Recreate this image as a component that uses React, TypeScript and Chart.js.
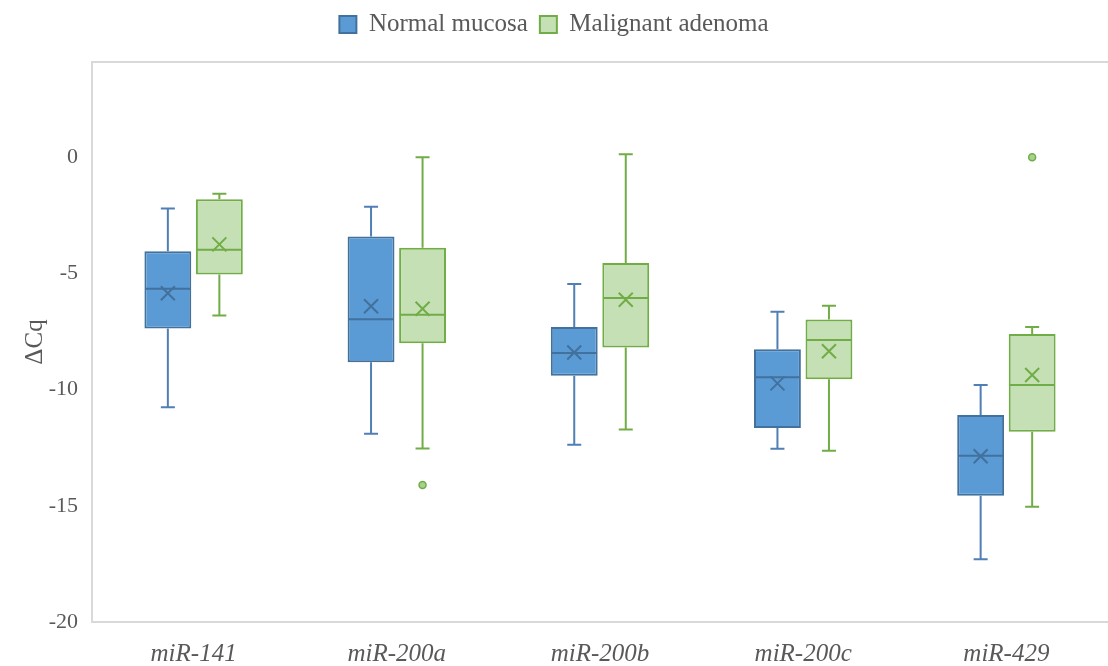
import React, { useEffect, useRef } from "react";
import { Chart, registerables } from "chart.js";

Chart.register(...registerables);

const categories = ["miR-141", "miR-200a", "miR-200b", "miR-200c", "miR-429"];
const seriesNames = ["Normal mucosa", "Malignant adenoma"];

// Normal mucosa: five-number summary, mean and outliers per miRNA
const normalMin = [-10.76, -11.9, -12.37, -12.54, -17.3];
const normalQ1 = [-7.37, -8.82, -9.4, -11.65, -14.57];
const normalMedian = [-5.66, -6.97, -8.42, -9.47, -12.84];
const normalQ3 = [-4.04, -3.41, -7.3, -8.26, -11.09];
const normalMax = [-2.2, -2.13, -5.45, -6.65, -9.8];
const normalMean = [-5.85, -6.41, -8.4, -9.73, -12.87];
const normalOutliers: number[][] = [[], [], [], [], []];

// Malignant adenoma
const adenomaMin = [-6.81, -12.53, -11.72, -12.63, -15.04];
const adenomaQ1 = [-5.04, -8.0, -8.19, -9.55, -11.81];
const adenomaMedian = [-3.98, -6.78, -6.06, -7.86, -9.8];
const adenomaQ3 = [-1.81, -3.89, -4.55, -6.98, -7.61];
const adenomaMax = [-1.57, 0.0, 0.13, -6.39, -7.3];
const adenomaMean = [-3.75, -6.52, -6.13, -8.35, -9.37];
const adenomaOutliers: number[][] = [[], [-14.1], [], [], [0.0]];

const yTicks = [-20, -15, -10, -5, 0];
const yMin = -20;
const yMax = 4.1;

const FONT = "'Liberation Serif', 'Times New Roman', serif";
const TEXT = "#595959";

type Series = {
  min: number[];
  q1: number[];
  median: number[];
  q3: number[];
  max: number[];
  mean: number[];
  outliers: number[][];
  line: string;
  medianColor: string;
  meanColor: string;
  dotFill: string;
};

const series: Series[] = [
  {
    min: normalMin, q1: normalQ1, median: normalMedian, q3: normalQ3, max: normalMax,
    mean: normalMean, outliers: normalOutliers,
    line: "#4F7FB5", medianColor: "#41719C", meanColor: "#41719C", dotFill: "#7FAEDC",
  },
  {
    min: adenomaMin, q1: adenomaQ1, median: adenomaMedian, q3: adenomaQ3, max: adenomaMax,
    mean: adenomaMean, outliers: adenomaOutliers,
    line: "#70AD47", medianColor: "#70AD47", meanColor: "#70AD47", dotFill: "#A9D18E",
  },
];

// Gives the legend the full band above the plot area
const legendBand = {
  id: "legendBand",
  beforeLayout(chart: any) {
    const legend = chart.legend;
    if (legend && !legend.__band) {
      const fit = legend.fit.bind(legend);
      legend.fit = function () {
        fit();
        this.height = 62;
      };
      legend.__band = true;
    }
  },
};

// Plot-area frame (left, top, bottom)
const plotFrame = {
  id: "plotFrame",
  beforeDatasetsDraw(chart: any) {
    const { ctx, chartArea } = chart;
    ctx.save();
    ctx.strokeStyle = "#D9D9D9";
    ctx.lineWidth = 2;
    ctx.beginPath();
    ctx.moveTo(chartArea.right + 2, chartArea.top);
    ctx.lineTo(chartArea.left, chartArea.top);
    ctx.lineTo(chartArea.left, chartArea.bottom);
    ctx.lineTo(chartArea.right + 2, chartArea.bottom);
    ctx.stroke();
    ctx.restore();
  },
};

// Whiskers, medians, mean markers and outliers on top of the boxes
const boxDetails = {
  id: "boxDetails",
  afterDatasetsDraw(chart: any) {
    const { ctx } = chart;
    const y = chart.scales.y;
    series.forEach((s, d) => {
      const meta = chart.getDatasetMeta(d);
      meta.data.forEach((el: any, j: number) => {
        const x = el.x;
        const half = el.width / 2;
        const cap = 7;
        const yMinP = y.getPixelForValue(s.min[j]);
        const yQ1 = y.getPixelForValue(s.q1[j]);
        const yQ3 = y.getPixelForValue(s.q3[j]);
        const yMaxP = y.getPixelForValue(s.max[j]);
        const yMed = y.getPixelForValue(s.median[j]);
        const yMean = y.getPixelForValue(s.mean[j]);

        ctx.save();
        ctx.strokeStyle = s.line;
        ctx.lineWidth = 2;
        ctx.beginPath();
        // upper whisker
        ctx.moveTo(x, yQ3);
        ctx.lineTo(x, yMaxP);
        ctx.moveTo(x - cap, yMaxP);
        ctx.lineTo(x + cap, yMaxP);
        // lower whisker
        ctx.moveTo(x, yQ1);
        ctx.lineTo(x, yMinP);
        ctx.moveTo(x - cap, yMinP);
        ctx.lineTo(x + cap, yMinP);
        ctx.stroke();

        // median
        ctx.strokeStyle = s.medianColor;
        ctx.beginPath();
        ctx.moveTo(x - half + 1, yMed);
        ctx.lineTo(x + half - 1, yMed);
        ctx.stroke();

        // mean marker
        const m = 7;
        ctx.strokeStyle = s.meanColor;
        ctx.lineWidth = 2;
        ctx.beginPath();
        ctx.moveTo(x - m, yMean - m);
        ctx.lineTo(x + m, yMean + m);
        ctx.moveTo(x + m, yMean - m);
        ctx.lineTo(x - m, yMean + m);
        ctx.stroke();

        // outliers
        s.outliers[j].forEach((v) => {
          const py = y.getPixelForValue(v);
          ctx.beginPath();
          ctx.arc(x, py, 3.5, 0, Math.PI * 2);
          ctx.fillStyle = s.dotFill;
          ctx.fill();
          ctx.lineWidth = 1.5;
          ctx.strokeStyle = s.line;
          ctx.stroke();
        });
        ctx.restore();
      });
    });
  },
};

export default function App() {
  const canvasRef = useRef<HTMLCanvasElement | null>(null);

  useEffect(() => {
    const canvas = canvasRef.current;
    if (!canvas) return;

    const chart = new Chart(canvas, {
      type: "bar",
      data: {
        labels: categories,
        datasets: [
          {
            label: seriesNames[0],
            data: normalQ1.map((q1, i) => [q1, normalQ3[i]]) as any,
            backgroundColor: "#5B9BD5",
            borderColor: "#41719C",
            borderWidth: 2,
            borderSkipped: false,
            categoryPercentage: 0.507,
            barPercentage: 0.91,
          },
          {
            label: seriesNames[1],
            data: adenomaQ1.map((q1, i) => [q1, adenomaQ3[i]]) as any,
            backgroundColor: "#C5E0B4",
            borderColor: "#70AD47",
            borderWidth: 2,
            borderSkipped: false,
            categoryPercentage: 0.507,
            barPercentage: 0.91,
          },
        ],
      },
      options: {
        responsive: false,
        animation: false,
        layout: { padding: 0 },
        plugins: {
          legend: {
            position: "top",
            labels: {
              boxWidth: 17,
              boxHeight: 17,
              padding: 12,
              color: TEXT,
              font: { family: FONT, size: 25 },
            },
          },
          tooltip: { enabled: false },
        },
        scales: {
          x: {
            grid: { display: false, drawTicks: false },
            border: { display: false },
            ticks: {
              color: TEXT,
              padding: 17,
              font: { family: FONT, size: 25, style: "italic" },
            },
            afterFit: (s: any) => {
              s.height = 44;
            },
          },
          y: {
            min: yMin,
            max: yMax,
            grid: { display: false, drawTicks: false },
            border: { display: false },
            afterBuildTicks: (s: any) => {
              s.ticks = yTicks.map((v) => ({ value: v }));
            },
            ticks: {
              color: TEXT,
              padding: 14,
              font: { family: FONT, size: 22 },
            },
            title: {
              display: true,
              text: "ΔCq",
              color: TEXT,
              padding: { top: 20, bottom: 0 },
              font: { family: FONT, size: 25 },
            },
            afterFit: (s: any) => {
              s.width = 92;
            },
          },
        },
      },
      plugins: [legendBand, plotFrame, boxDetails],
    });

    return () => chart.destroy();
  }, []);

  return (
    <div style={{ position: "fixed", left: 0, top: 0, width: 1108, height: 666, background: "#fff" }}>
      <canvas ref={canvasRef} width={1108} height={666} style={{ display: "block" }} />
    </div>
  );
}
